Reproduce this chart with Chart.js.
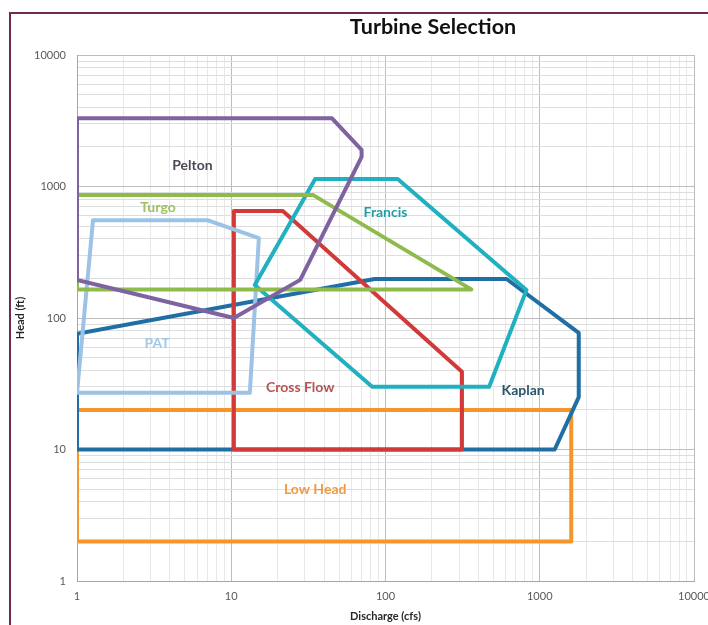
<!DOCTYPE html>
<html><head><meta charset="utf-8">
<script src="https://cdn.jsdelivr.net/npm/chart.js@4/dist/chart.umd.min.js"></script>
<style>html,body{margin:0;padding:0;background:#fff;}#wrap{position:relative;width:708px;height:625px;}</style>
</head><body><div id="wrap"><canvas id="c" width="708" height="625"></canvas></div>
<script>
// ---- data (discharge cfs / head ft) ----
const decadeTicks = [1, 10, 100, 1000, 10000];

const seriesNames = ['Pelton', 'Turgo', 'Francis', 'PAT', 'Cross Flow', 'Kaplan', 'Low Head'];

const peltonX = [1, 45, 70, 70, 28, 10.4, 1, 1];
const peltonY = [3300, 3300, 1900, 1680, 195, 100, 195, 3300];

const turgoX = [1, 34, 360, 1, 1];
const turgoY = [860, 860, 165, 165, 860];

const francisX = [35, 120, 820, 470, 82, 14.2, 35];
const francisY = [1140, 1140, 163, 30, 30, 178, 1140];

const patX = [1, 1.27, 7, 15.1, 13.2, 1];
const patY = [27, 555, 555, 405, 27, 27];

const crossFlowX = [10.4, 10.4, 21.6, 313, 313, 10.4];
const crossFlowY = [10, 650, 650, 39, 10, 10];

const kaplanX = [1, 1, 85, 610, 1790, 1790, 1250, 1];
const kaplanY = [10, 76, 198, 198, 77, 25, 10, 10];

const lowHeadX = [1, 1600, 1600, 1, 1];
const lowHeadY = [20, 20, 2, 2, 20];

// label anchors (data coordinates)
const labelX = [5.6, 3.35, 100, 3.3, 28, 780, 35];
const labelY = [1450, 690, 640, 64, 29.4, 28.3, 5.0];

// ---- styling ----
const lineColors = ['#7f62a0', '#8fbb4c', '#20b0bf', '#9cc3e6', '#d23a3a', '#1f6fa4', '#f6952c'];
const textColors = ['#4f4758', '#9fc063', '#239ea6', '#a3c7e6', '#b95252', '#27566c', '#ef9b45'];

const xs = [peltonX, turgoX, francisX, patX, crossFlowX, kaplanX, lowHeadX];
const ys = [peltonY, turgoY, francisY, patY, crossFlowY, kaplanY, lowHeadY];

function buildMinor(dec) {
  const out = [];
  for (let i = 0; i < dec.length - 1; i++) {
    for (let m = 1; m <= 9; m++) out.push(dec[i] * m);
  }
  out.push(dec[dec.length - 1]);
  return out;
}
const gridTicks = buildMinor(decadeTicks);

const datasets = seriesNames.map((name, i) => ({
  label: name,
  data: xs[i].map((x, j) => ({x: x, y: ys[i][j]})),
  showLine: true,
  fill: false,
  pointRadius: 0,
  borderWidth: 4,
  borderColor: lineColors[i],
  backgroundColor: lineColors[i],
  borderJoinStyle: 'round',
  borderCapStyle: 'round',
  tension: 0
}));

const FONT = 'Lato, "Liberation Sans", sans-serif';

const frame = {
  id: 'frame',
  beforeDraw(chart) {
    const ctx = chart.ctx;
    ctx.save();
    ctx.fillStyle = '#ffffff';
    ctx.fillRect(0, 0, chart.width, chart.height);
    ctx.strokeStyle = '#6e2b52';
    ctx.lineWidth = 2;
    ctx.strokeRect(10, 13, 760, 700);
    ctx.restore();
  },
  afterDraw(chart) {
    const ctx = chart.ctx;
    ctx.save();
    ctx.fillStyle = '#111111';
    ctx.font = 'bold 21.5px ' + FONT;
    ctx.textAlign = 'center';
    ctx.textBaseline = 'middle';
    ctx.fillText('Turbine Selection', 433, 27);
    ctx.restore();
  }
};

const areaLabels = {
  id: 'areaLabels',
  afterDatasetsDraw(chart) {
    const ctx = chart.ctx;
    const sx = chart.scales.x, sy = chart.scales.y;
    ctx.save();
    ctx.font = 'bold 14px ' + FONT;
    ctx.textAlign = 'center';
    ctx.textBaseline = 'middle';
    seriesNames.forEach((name, i) => {
      ctx.fillStyle = textColors[i];
      ctx.fillText(name, sx.getPixelForValue(labelX[i]), sy.getPixelForValue(labelY[i]));
    });
    ctx.restore();
  }
};

const gridColorX = (ctx) => (ctx.tick && decadeTicks.includes(ctx.tick.value)) ? '#bdbdbd' : '#e8e8e8';
const gridColorY = (ctx) => (ctx.tick && decadeTicks.includes(ctx.tick.value)) ? '#bdbdbd' : '#dddddd';

new Chart(document.getElementById('c'), {
  type: 'scatter',
  data: {datasets},
  plugins: [frame, areaLabels],
  options: {
    responsive: false,
    animation: false,
    layout: {padding: {left: 0, top: 55, right: 0, bottom: 0}},
    plugins: {legend: {display: false}, title: {display: false}, tooltip: {enabled: false}},
    scales: {
      x: {
        type: 'logarithmic',
        position: 'bottom',
        min: 1, max: 10000,
        afterBuildTicks: (s) => { s.ticks = gridTicks.map(v => ({value: v})); },
        afterFit: (s) => { s.height = 44; s.paddingRight = 14; s.paddingLeft = 0; },
        ticks: {
          autoSkip: false, maxRotation: 0, padding: 9,
          color: '#595959', font: {family: FONT, size: 11},
          callback: (v) => decadeTicks.includes(v) ? String(v) : ''
        },
        grid: {color: gridColorX, drawTicks: false, lineWidth: 1},
        border: {display: true, color: '#a6a6a6'},
        title: {display: true, text: 'Discharge (cfs)', color: '#262626',
                font: {family: FONT, size: 11, weight: 'bold'}, padding: {top: 0, bottom: 2}}
      },
      y: {
        type: 'logarithmic',
        position: 'left',
        min: 1, max: 10000,
        afterBuildTicks: (s) => { s.ticks = gridTicks.map(v => ({value: v})); },
        afterFit: (s) => { s.width = 77; s.paddingTop = 0; s.paddingBottom = 0; },
        ticks: {
          autoSkip: false, padding: 11,
          color: '#595959', font: {family: FONT, size: 11},
          callback: (v) => decadeTicks.includes(v) ? String(v) : ''
        },
        grid: {color: gridColorY, drawTicks: false, lineWidth: 1},
        border: {display: true, color: '#a6a6a6'},
        title: {display: true, text: 'Head (ft)', color: '#262626',
                font: {family: FONT, size: 11, weight: 'bold'}, padding: {top: 14, bottom: 0}}
      }
    }
  }
});
</script></body></html>
